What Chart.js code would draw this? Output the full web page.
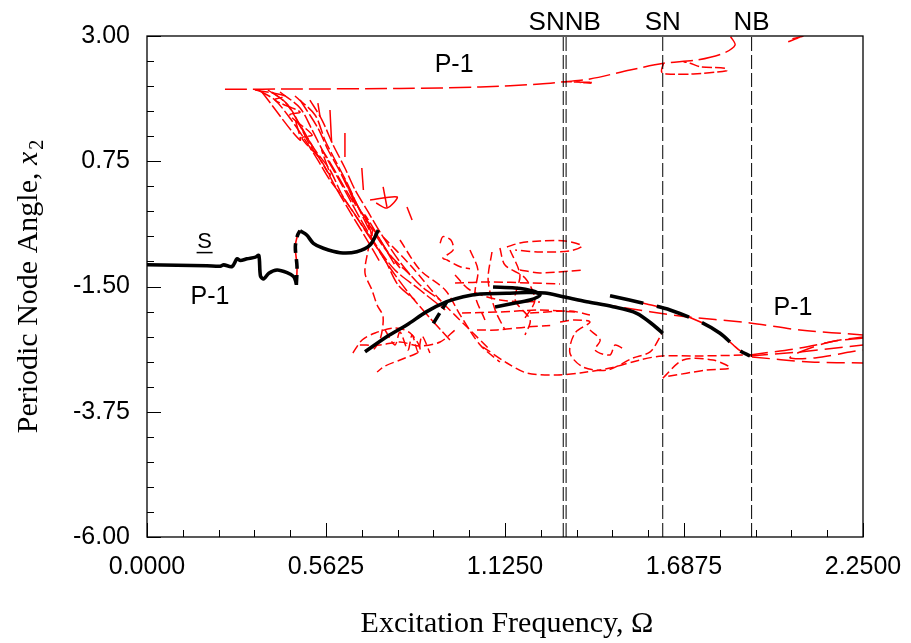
<!DOCTYPE html>
<html>
<head>
<meta charset="utf-8">
<script src="https://cdn.jsdelivr.net/npm/chart.js@4.4.1/dist/chart.umd.min.js"></script>
<style>
  html, body { margin: 0; padding: 0; background: #fff; }
</style>
</head>
<body>
<canvas id="chart" width="911" height="643"></canvas>
<script>
// ====== tick labels ======
const xTickLabels = ["0.0000", "0.5625", "1.1250", "1.6875", "2.2500"];
const yTickLabels = ["-6.00", "-3.75", "-1.50", "0.75", "3.00"];

// ====== bifurcation markers ======
const markerLines = [1.308, 1.317, 1.6207, 1.900];
const markerNames = ["SNNB", "SN", "NB"];
const markerPos = [1.3125, 1.6207, 1.900];

// ====== stable P-1 branch (black solid) ======
const stableLeft = [[0,-1.11],[0.1886,-1.126],[0.2304,-1.135],[0.2410,-1.111],[0.2672,-1.141],[0.2829,-1.003],[0.2934,-1.033],[0.3143,-1.003],[0.3410,-0.972],[0.3514,-0.942],[0.3567,-1.314],[0.3672,-1.362],[0.3829,-1.262],[0.4087,-1.203],[0.4401,-1.251],[0.4609,-1.323],[0.4693,-1.442]];
const stableHump = [[0.4810,-0.497],[0.5019,-0.575],[0.5228,-0.724],[0.5542,-0.814],[0.6066,-0.893],[0.6590,-0.875],[0.7009,-0.755],[0.7270,-0.485]];
const stableMain = [[0.6851,-2.671],[0.7533,-2.401],[0.8162,-2.191],[0.8790,-1.952],[0.9419,-1.773],[0.9940,-1.683],[1.0465,-1.634],[1.1304,-1.622],[1.1933,-1.608],[1.2508,-1.617],[1.3074,-1.683],[1.3819,-1.773],[1.4645,-1.863],[1.5390,-1.981],[1.5911,-2.191],[1.6207,-2.341]];
const stableFold = [[1.0874,-1.509],[1.1565,-1.527],[1.2131,-1.581],[1.2351,-1.653],[1.2037,-1.742],[1.1408,-1.814],[1.0937,-1.868]];

// ====== unstable P-1 pieces (black dashed) ======
const unstableJump = [[0.4693,-1.473],[0.4714,-1.144],[0.4661,-0.785],[0.4734,-0.575],[0.4810,-0.497]];
const unstableRight = [[1.4551,-1.665],[1.5704,-1.814],[1.6437,-1.922],[1.7483,-2.161],[1.8007,-2.341],[1.8425,-2.551],[1.8636,-2.653],[1.8950,-2.748]];
const unstableMid = [[0.8999,-2.162],[0.9419,-1.773]];

// ====== red dashed orbits ======
const redTop = [[0.245,2.043],[0.481,2.048],[0.795,2.057],[1.047,2.084],[1.235,2.138],[1.314,2.179],[1.392,2.228],[1.518,2.389],[1.623,2.510],[1.728,2.569],[1.811,2.689],[1.848,2.838],[1.834,2.99]];
const redLoop = [[1.623,2.510],[1.617,2.359],[1.633,2.318],[1.717,2.318],[1.822,2.377],[1.816,2.420],[1.738,2.449],[1.707,2.510],[1.686,2.539]];
const redCorner = [[2.015,2.898],[2.050,2.975],[2.030,2.95],[2.063,3.0]];
const redKink = [[1.310,2.180],[1.398,2.166],[1.350,2.172],[1.400,2.150]];

const bundle1 = [[0.349,2.03],[0.402,1.85],[0.449,1.527],[0.497,1.13],[0.537,0.77],[0.575,0.41],[0.622,0.054],[0.669,-0.341],[0.717,-0.754],[0.764,-1.167],[0.827,-1.652],[0.889,-2.065],[0.952,-2.461]];
const bundle2 = [[0.380,2.03],[0.434,1.814],[0.481,1.401],[0.528,0.952],[0.575,0.593],[0.613,0.144],[0.654,-0.215],[0.695,-0.575],[0.748,-1.024],[0.789,-1.473],[0.842,-1.742]];
const bundle3 = [[0.418,1.994],[0.481,1.707],[0.519,1.311],[0.559,0.862],[0.600,0.451],[0.638,0.054],[0.676,-0.341],[0.726,-0.808],[0.779,-1.203],[0.858,-1.563],[0.937,-1.922]];
const bundle4 = [[0.465,1.922],[0.528,1.581],[0.559,1.132],[0.591,0.772],[0.632,0.323],[0.669,-0.126],[0.713,-0.485],[0.764,-0.934],[0.827,-1.293]];
const bundle5 = [[0.512,1.85],[0.550,1.49],[0.585,1.042],[0.622,0.629],[0.654,0.234],[0.695,-0.161],[0.732,-0.521],[0.795,-1.06],[0.858,-1.473],[0.921,-1.742]];
const bundle6 = [[0.361,1.994],[0.481,1.13],[0.468,1.49],[0.575,0.50],[0.550,0.952],[0.654,-0.036],[0.622,0.41],[0.707,-0.575],[0.685,-0.215],[0.779,-1.114]];
const bundle7 = [[0.393,1.994],[0.443,1.761],[0.475,1.455],[0.512,1.042],[0.550,0.737],[0.594,0.270],[0.638,-0.161],[0.688,-0.629],[0.732,-1.06]];
const bundle8 = [[0.481,1.85],[0.537,1.347],[0.569,0.952],[0.607,0.557],[0.644,0.126],[0.685,-0.269],[0.739,-0.754],[0.795,-1.167]];
const bundle9 = [[0.339,2.03],[0.434,1.922],[0.402,1.85],[0.481,1.635],[0.449,1.581],[0.519,1.222],[0.487,1.168],[0.550,0.772]];
const strokes = [
  [[0.537,1.796],[0.544,1.545]],
  [[0.575,1.67],[0.580,1.10]],
  [[0.622,1.258],[0.622,0.827]],
  [[0.675,0.629],[0.680,0.234]],
  [[0.742,0.288],[0.754,-0.072]],
  [[0.817,-0.072],[0.833,-0.305]],
  [[0.701,0.054],[0.786,0.108],[0.754,-0.090],[0.720,0.000]]
];

const low1 = [[0.710,-0.485],[0.695,-0.844],[0.685,-1.257],[0.707,-1.563],[0.723,-1.832],[0.742,-2.047],[0.732,-2.461],[0.707,-2.676]];
const low2 = [[0.647,-2.694],[0.676,-2.461],[0.717,-2.335],[0.779,-2.245],[0.827,-2.335],[0.858,-2.640],[0.811,-2.784],[0.748,-2.928],[0.723,-3.036]];
const low3 = [[0.669,-2.551],[0.732,-2.551],[0.795,-2.497],[0.858,-2.569],[0.921,-2.497],[0.968,-2.281]];
const low4 = [[0.748,-2.281],[0.779,-2.551],[0.795,-2.317],[0.820,-2.640],[0.833,-2.371],[0.852,-2.676],[0.864,-2.389],[0.889,-2.694]];
const low5 = [[0.921,-0.724],[0.930,-0.604],[0.955,-0.665],[0.962,-0.844],[0.930,-0.988],[0.943,-1.024],[0.984,-1.144],[1.015,-1.18]];
const low6 = [[0.742,-0.610],[0.827,-1.114],[0.921,-1.742],[1.015,-2.281],[1.078,-2.640]];
const low7 = [[0.795,-0.665],[0.858,-1.203],[0.937,-1.563],[0.984,-2.011],[1.047,-2.551],[1.109,-2.856]];
const low8 = [[0.968,-1.437],[1.078,-1.419],[1.204,-1.437],[1.298,-1.455]];
const low9 = [[0.990,-1.976],[1.109,-1.958],[1.235,-1.922],[1.345,-1.958]];
const low10 = [[1.131,-0.790],[1.172,-0.718],[1.235,-0.682],[1.314,-0.682],[1.367,-0.772],[1.329,-0.862],[1.235,-0.880],[1.157,-0.844]];
const low11 = [[1.084,-0.880],[1.072,-1.383],[1.094,-1.922],[1.125,-2.281]];
const low12 = [[1.141,-0.844],[1.172,-1.293],[1.157,-1.742],[1.204,-2.101],[1.188,-2.371]];
const low13 = [[1.172,-1.203],[1.235,-1.257],[1.370,-1.203]];
const low14 = [[1.204,-1.976],[1.329,-1.940],[1.392,-2.011]];
const low15 = [[1.056,-2.587],[1.131,-2.874],[1.194,-3.054],[1.289,-3.09],[1.361,-3.054],[1.455,-2.964],[1.549,-2.820],[1.618,-2.748],[1.738,-2.748],[1.895,-2.730]];
const low16 = [[1.298,-2.137],[1.345,-2.101],[1.392,-2.137],[1.345,-2.335],[1.329,-2.694],[1.370,-2.946],[1.446,-3.0],[1.527,-2.784],[1.581,-2.676],[1.612,-2.407],[1.618,-2.335]];
const low17 = [[1.392,-2.281],[1.424,-2.461],[1.408,-2.640],[1.455,-2.730],[1.471,-2.551],[1.502,-2.640]];
const low18 = [[1.345,-1.742],[1.486,-1.868],[1.675,-2.029],[1.895,-2.155],[2.052,-2.281],[2.25,-2.371]];
const low19 = [[1.895,-2.730],[2.052,-2.605],[2.178,-2.461],[2.25,-2.407]];
const low20 = [[1.895,-2.748],[2.052,-2.676],[2.25,-2.551]];
const low21 = [[1.901,-2.766],[2.084,-2.856],[2.25,-2.874]];
const low22 = [[2.25,-2.425],[2.146,-2.497],[2.052,-2.676],[2.021,-2.784],[2.099,-2.784],[2.209,-2.676],[2.25,-2.640]];
const low23 = [[1.621,-3.147],[1.685,-2.820],[1.779,-2.820],[1.832,-2.964],[1.758,-3.0],[1.633,-3.119]];
const low24 = [[1.037,-2.281],[1.100,-2.281],[1.194,-2.227],[1.267,-2.200]];
const mid1 = [[1.015,-0.844],[1.040,-1.203],[1.031,-1.652],[1.062,-2.101]];
const mid2 = [[1.109,-0.808],[1.125,-1.114],[1.188,-1.347],[1.219,-1.742],[1.188,-2.065]];
const mid3 = [[0.968,-1.293],[1.015,-1.563],[1.109,-1.742],[1.235,-1.778]];

// ====== helpers ======
const pts = arr => arr.map(p => ({ x: p[0], y: p[1] }));
const RED = "#ff0000";

function red(arr, dash, width) {
  return { data: pts(arr), borderColor: RED, borderWidth: width || 1.5, borderDash: dash || [9, 4],
           showLine: true, pointRadius: 0, tension: 0.3, order: 3 };
}
function black(arr, dash) {
  return { data: pts(arr), borderColor: "#000", borderWidth: 3.6, borderDash: dash || [],
           showLine: true, pointRadius: 0, tension: 0.3, order: 1, borderCapStyle: "butt" };
}

const datasets = [];
datasets.push(red(redTop, [22, 6]));
datasets.push(red(redLoop, [10, 3]));
datasets.push(red(redCorner, []));
datasets.push(red(redKink, [8, 2]));
[bundle1, bundle2, bundle3, bundle4, bundle5, bundle6, bundle7, bundle8, bundle9]
  .forEach(b => datasets.push(red(b, [14, 3])));
strokes.forEach(s => datasets.push(red(s, [])));
[low1, low2, low3, low4, low5, low6, low7, low8, low9, low10, low11, low12, low13, low14,
 low15, low16, low17, low23, low24, mid1, mid2, mid3].forEach(l => datasets.push(red(l, [9, 4])));
[low18, low19, low20, low21, low22].forEach(l => datasets.push(red(l, [18, 7])));
// red under the unstable black dashes
datasets.push(red(unstableJump, [], 1.6));
datasets.push(red(unstableRight, [], 1.6));

markerLines.forEach(v => datasets.push({
  data: [{ x: v, y: -6 }, { x: v, y: 3 }], borderColor: "#000", borderWidth: 1,
  borderDash: [14, 4], showLine: true, pointRadius: 0, order: 2
}));

datasets.push(black(stableLeft));
datasets.push(black(stableHump));
datasets.push(black(stableMain));
datasets.push(black(stableFold));
datasets.push(black(unstableJump, [10, 6]));
datasets.push(black(unstableRight, [34, 14]));
datasets.push(black(unstableMid, [12, 5]));

// ====== ticks ======
const xMajors = xTickLabels.map(Number);
const yMajors = yTickLabels.map(Number);
function withMinors(majors) {
  const out = [];
  for (let i = 0; i < majors.length; i++) {
    out.push(majors[i]);
    if (i < majors.length - 1) {
      const step = (majors[i + 1] - majors[i]) / 5;
      for (let k = 1; k < 5; k++) out.push(majors[i] + k * step);
    }
  }
  return out;
}
const isMajor = (v, majors) => majors.some(m => Math.abs(m - v) < 1e-6);

// ====== decorations: frame, inside ticks, labels, titles ======
const decor = {
  id: "decor",
  afterDatasetsDraw(chart) {
    const { ctx, chartArea: a, scales: { x, y } } = chart;
    ctx.save();
    ctx.strokeStyle = "#000";
    ctx.lineWidth = 1.3;
    ctx.strokeRect(a.left, a.top, a.right - a.left, a.bottom - a.top);

    ctx.lineWidth = 1;
    ctx.beginPath();
    x.ticks.forEach(t => {
      const px = Math.round(x.getPixelForValue(t.value)) + 0.5;
      const len = isMajor(t.value, xMajors) ? 14 : 7;
      ctx.moveTo(px, a.bottom); ctx.lineTo(px, a.bottom - len);
    });
    y.ticks.forEach(t => {
      const py = Math.round(y.getPixelForValue(t.value)) + 0.5;
      const len = isMajor(t.value, yMajors) ? 14 : 7;
      ctx.moveTo(a.left, py); ctx.lineTo(a.left + len, py);
    });
    ctx.stroke();

    ctx.fillStyle = "#000";
    ctx.textAlign = "center";
    ctx.textBaseline = "alphabetic";
    ctx.font = '26px "Liberation Sans", Arial, sans-serif';
    markerNames.forEach((n, i) => ctx.fillText(n, x.getPixelForValue(markerPos[i]), a.top - 6));

    ctx.font = '25px "Liberation Sans", Arial, sans-serif';
    ctx.fillText("P-1", x.getPixelForValue(0.965), y.getPixelForValue(2.36));
    ctx.fillText("P-1", x.getPixelForValue(0.198), y.getPixelForValue(-1.82));
    ctx.fillText("P-1", x.getPixelForValue(2.030), y.getPixelForValue(-2.02));
    ctx.font = '22px "Liberation Sans", Arial, sans-serif';
    const sx = x.getPixelForValue(0.181), sy = y.getPixelForValue(-0.81);
    ctx.fillText("S", sx, sy);
    ctx.lineWidth = 1.5;
    ctx.beginPath();
    ctx.moveTo(sx - 8, sy + 4.5); ctx.lineTo(sx + 8, sy + 4.5);
    ctx.stroke();

    // axis titles
    ctx.font = '30px "Liberation Serif", "Times New Roman", serif';
    ctx.fillText("Excitation Frequency, \u03A9", (a.left + a.right) / 2 + 2, 632);

    ctx.translate(37, (a.top + a.bottom) / 2);
    ctx.rotate(-Math.PI / 2);
    const main = "Periodic Node Angle, ";
    const fMain = '30px "Liberation Serif", "Times New Roman", serif';
    const fIt = 'italic 30px "Liberation Serif", "Times New Roman", serif';
    const fSub = '20px "Liberation Serif", "Times New Roman", serif';
    ctx.font = fMain; const w1 = ctx.measureText(main).width;
    ctx.font = fIt; const w2 = ctx.measureText("x").width;
    ctx.font = fSub; const w3 = ctx.measureText("2").width;
    let cx = -(w1 + w2 + w3 + 2) / 2;
    ctx.textAlign = "left";
    ctx.font = fMain; ctx.fillText(main, cx, 0); cx += w1;
    ctx.font = fIt; ctx.fillText("x", cx, 0); cx += w2 + 2;
    ctx.font = fSub; ctx.fillText("2", cx, 6);
    ctx.restore();
  }
};

// ====== chart ======
const chart = new Chart(document.getElementById("chart"), {
  type: "scatter",
  data: { datasets },
  options: {
    responsive: false,
    animation: false,
    devicePixelRatio: 1,
    layout: { padding: { top: 36, right: 48, left: 0, bottom: 0 } },
    plugins: { legend: { display: false }, tooltip: { enabled: false } },
    scales: {
      x: {
        type: "linear", min: 0, max: 2.25,
        afterBuildTicks: s => { s.ticks = withMinors(xMajors).map(v => ({ value: v })); },
        afterFit: s => { s.height = 106; s.paddingLeft = 0; s.paddingRight = 0; },
        grid: { display: false, drawTicks: false },
        border: { display: false },
        ticks: {
          autoSkip: false, maxRotation: 0, padding: 15, color: "#000",
          font: { family: '"Liberation Sans", Arial, sans-serif', size: 25 },
          callback: v => { const i = xMajors.findIndex(m => Math.abs(m - v) < 1e-6); return i >= 0 ? xTickLabels[i] : ""; }
        }
      },
      y: {
        type: "linear", min: -6, max: 3,
        afterBuildTicks: s => { s.ticks = withMinors(yMajors).map(v => ({ value: v })); },
        afterFit: s => { s.width = 147; s.paddingTop = 0; s.paddingBottom = 0; },
        grid: { display: false, drawTicks: false },
        border: { display: false },
        ticks: {
          autoSkip: false, padding: 17, color: "#000",
          font: { family: '"Liberation Sans", Arial, sans-serif', size: 25 },
          callback: v => { const i = yMajors.findIndex(m => Math.abs(m - v) < 1e-6); return i >= 0 ? yTickLabels[i] : ""; }
        }
      }
    }
  },
  plugins: [decor]
});
</script>
</body>
</html>
